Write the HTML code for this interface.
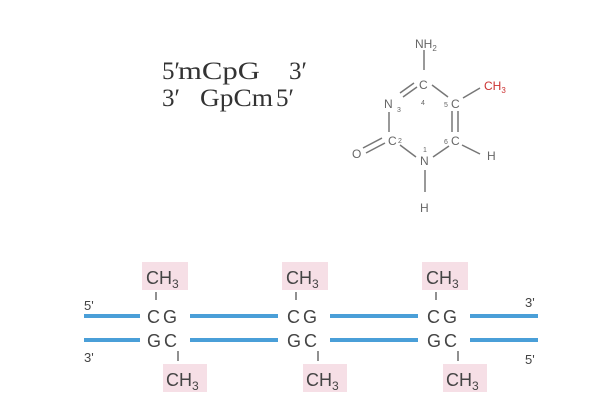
<html><body style="margin:0;background:#fff">
<svg width="605" height="412" xmlns="http://www.w3.org/2000/svg" font-family="Liberation Sans, sans-serif">
<g font-family="Liberation Serif, serif" font-size="25" fill="#333">
<text x="162" y="79">5′</text><text x="178" y="79" textLength="82" lengthAdjust="spacingAndGlyphs">mCpG</text><text x="289" y="79">3′</text>
<text x="162" y="106">3′</text><text x="200" y="106" textLength="73" lengthAdjust="spacingAndGlyphs">GpCm</text><text x="276" y="106">5′</text>
</g>
<g stroke="#777" stroke-width="1.5" fill="none">
<line x1="424" y1="50" x2="424" y2="70"/>
<line x1="403" y1="97" x2="417" y2="87"/><line x1="400" y1="93" x2="414" y2="83"/>
<line x1="432" y1="85" x2="448" y2="97"/>
<line x1="463" y1="98" x2="480" y2="88"/>
<line x1="452" y1="111" x2="452" y2="132"/><line x1="458" y1="111" x2="458" y2="132"/>
<line x1="389" y1="112" x2="389" y2="132"/>
<line x1="400" y1="145" x2="416" y2="157"/>
<line x1="433" y1="157" x2="449" y2="146"/>
<line x1="462" y1="145" x2="480" y2="154"/>
<line x1="366" y1="153" x2="385" y2="143"/><line x1="363" y1="148" x2="382" y2="138"/>
<line x1="425" y1="170" x2="425" y2="192"/>
</g>
<g fill="#666" font-size="12">
<text x="415" y="48">NH<tspan font-size="8" dy="3">2</tspan></text>
<text x="419" y="89">C</text><text x="421" y="105" font-size="7">4</text>
<text x="451" y="108">C</text><text x="444" y="107" font-size="7">5</text>
<text x="451" y="145">C</text><text x="444" y="144" font-size="7">6</text>
<text x="420" y="165">N</text><text x="423" y="152" font-size="7">1</text>
<text x="388" y="145">C</text><text x="398" y="143" font-size="7">2</text>
<text x="384" y="108">N</text><text x="397" y="112" font-size="7">3</text>
<text x="352" y="158">O</text>
<text x="487" y="160">H</text>
<text x="420" y="212">H</text>
<text x="484" y="90" fill="#c33">CH<tspan font-size="8" dy="3">3</tspan></text>
</g>
<g fill="#f6dfe6">
<rect x="142" y="262" width="46" height="28"/><rect x="282" y="262" width="46" height="28"/><rect x="422" y="262" width="46" height="28"/>
<rect x="163" y="364" width="44" height="28"/><rect x="303" y="364" width="44" height="28"/><rect x="443" y="364" width="44" height="28"/>
</g>
<g stroke="#4a9fd8" stroke-width="4">
<line x1="84" y1="316" x2="140" y2="316"/><line x1="190" y1="316" x2="278" y2="316"/><line x1="330" y1="316" x2="418" y2="316"/><line x1="470" y1="316" x2="538" y2="316"/>
<line x1="84" y1="340" x2="140" y2="340"/><line x1="190" y1="340" x2="278" y2="340"/><line x1="330" y1="340" x2="418" y2="340"/><line x1="470" y1="340" x2="538" y2="340"/>
</g>
<g fill="#444" font-size="18">
<text x="84" y="310" font-size="13">5'</text><text x="84" y="362" font-size="13">3'</text>
<text x="525" y="307" font-size="13">3'</text><text x="525" y="364" font-size="13">5'</text>
<g id="c">
<text x="146" y="284">CH<tspan font-size="12" dy="4">3</tspan></text>
<line x1="156" y1="292" x2="156" y2="300" stroke="#555" stroke-width="1.3"/>
<text x="147" y="323" letter-spacing="3">CG</text>
<text x="147" y="347" letter-spacing="3">GC</text>
<line x1="178" y1="351" x2="178" y2="361" stroke="#555" stroke-width="1.3"/>
<text x="166" y="386">CH<tspan font-size="12" dy="4">3</tspan></text>
</g>
<use href="#c" x="140"/><use href="#c" x="280"/>
</g>
</svg>
</body></html>
